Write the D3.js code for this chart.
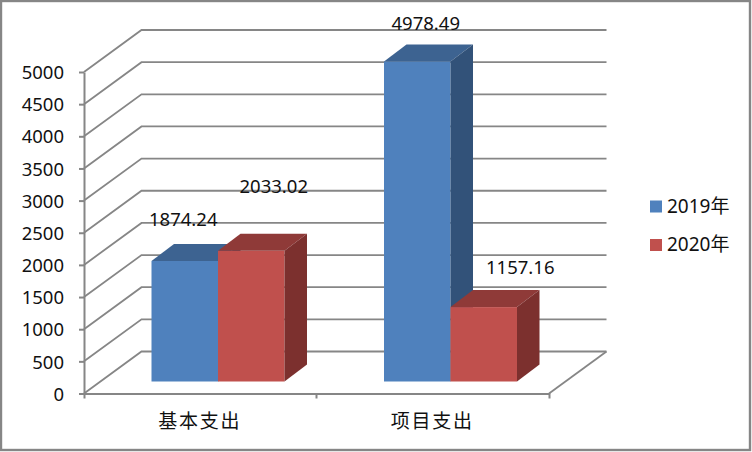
<!DOCTYPE html>
<html><head><meta charset="utf-8">
<script src="https://cdnjs.cloudflare.com/ajax/libs/d3/7.8.5/d3.min.js"></script>
<style>html,body{margin:0;padding:0;background:#fff}svg{display:block}
text{font-family:"Noto Sans","Noto Sans CJK SC",sans-serif;fill:#111}</style></head>
<body><svg id="c" width="752" height="452"></svg>
<script>
const categories = ["基本支出", "项目支出"];
const seriesNames = ["2019年", "2020年"];
const values2019 = [1874.24, 4978.49];
const values2020 = [2033.02, 1157.16];
const yTicks = [0,500,1000,1500,2000,2500,3000,3500,4000,4500,5000];
const seriesColors = [
  {front:"#4F81BD", topFace:"#3D6391", side:"#325279"},
  {front:"#C0504D", topFace:"#8F3A38", side:"#7C302E"}
];
// manual label placement, as in the source chart [dx, dy] from the bar front-top centre
const labelOffsets = [[[0,-36],[10,-32]],[[24,-59],[38,-34]]];

const svg = d3.select("#c");
const W = 752, H = 452;
const plotLeft = 84, plotRight = 549, plotTop = 72, plotBottom = 393.5;
const depthX = 57.5, depthY = -42;
const barDX = 22.5, barDY = -17, baseLift = 12;

svg.append("rect").attr("x",1).attr("y",1).attr("width",W-3).attr("height",H-3)
  .attr("fill","#fff").attr("stroke","#868686").attr("stroke-width",2.4);

const x0 = d3.scaleBand().domain(categories).range([plotLeft,plotRight]);
const x1 = d3.scaleBand().domain(seriesNames).range([67.5,200.5]);
const y = d3.scaleLinear().domain([0,5000]).range([plotBottom,plotTop]);

// gridlines (side wall + back wall)
const grid = svg.append("g").attr("fill","none").attr("stroke","#868686").attr("stroke-width",1.8);
yTicks.forEach(t=>{
  const p = d3.path();
  p.moveTo(plotLeft,y(t)); p.lineTo(plotLeft+depthX,y(t)+depthY); p.lineTo(plotRight+depthX,y(t)+depthY);
  grid.append("path").attr("d",p.toString());
});
grid.append("line").attr("x1",plotRight).attr("y1",plotBottom).attr("x2",plotRight+depthX).attr("y2",plotBottom+depthY);

// axes
const axisY = d3.axisLeft(y).tickValues(yTicks).tickSize(5).tickSizeOuter(0).tickPadding(15).tickFormat(d3.format("d"));
const gy = svg.append("g").attr("transform",`translate(${plotLeft},0)`).call(axisY);
gy.selectAll("path,line").attr("stroke","#868686").attr("stroke-width",2);
gy.selectAll("text").attr("font-size",18.5).attr("dy","0.36em").attr("font-family",null);

const axisX = d3.axisBottom(x0).tickValues([]).tickSize(0).tickSizeOuter(5);
const gx = svg.append("g").attr("transform",`translate(0,${plotBottom})`).call(axisX);
gx.selectAll("path").attr("stroke","#868686").attr("stroke-width",2).attr("fill","none");
gx.append("line").attr("x1",x0(categories[1])).attr("x2",x0(categories[1])).attr("y1",0).attr("y2",5)
  .attr("stroke","#868686").attr("stroke-width",2);
categories.forEach(c=>{
  svg.append("text").attr("x",x0(c)+x0.bandwidth()/2-0.5).attr("y",428).attr("text-anchor","middle")
    .attr("font-size",19).attr("letter-spacing",1.8).text(c);
});

// bars
const series = [values2019, values2020];
const base = plotBottom - baseLift;
categories.forEach((c,ci)=>{
  seriesNames.forEach((s,si)=>{
    const v = series[si][ci], col = seriesColors[si];
    const xa = x0(c)+x1(s), xb = xa+x1.bandwidth(), yt = y(v)-baseLift;
    const g = svg.append("g");
    g.append("rect").attr("x",xa).attr("y",yt).attr("width",xb-xa).attr("height",base-yt).attr("fill",col.front);
    g.append("polygon").attr("fill",col.topFace)
      .attr("points",[[xa,yt],[xa+barDX,yt+barDY],[xb+barDX,yt+barDY],[xb,yt]].join(" "));
    g.append("polygon").attr("fill",col.side)
      .attr("points",[[xb,yt],[xb+barDX,yt+barDY],[xb+barDX,base+barDY],[xb,base]].join(" "));
  });
});
// labels
categories.forEach((c,ci)=>{
  seriesNames.forEach((s,si)=>{
    const v = series[si][ci], o = labelOffsets[si][ci];
    svg.append("text").attr("x",x0(c)+x1(s)+x1.bandwidth()/2+o[0]-1.5).attr("y",y(v)-baseLift+o[1]+1)
      .attr("text-anchor","middle").attr("font-size",18.5).text(d3.format(".2f")(v));
  });
});
// legend
seriesNames.forEach((s,i)=>{
  const ly = 206.5 + i*38.5;
  svg.append("rect").attr("x",650).attr("y",ly-6).attr("width",12).attr("height",12).attr("fill",seriesColors[i].front);
  svg.append("text").attr("x",667).attr("y",ly+6).attr("font-size",19).text(s);
});
</script></body></html>
